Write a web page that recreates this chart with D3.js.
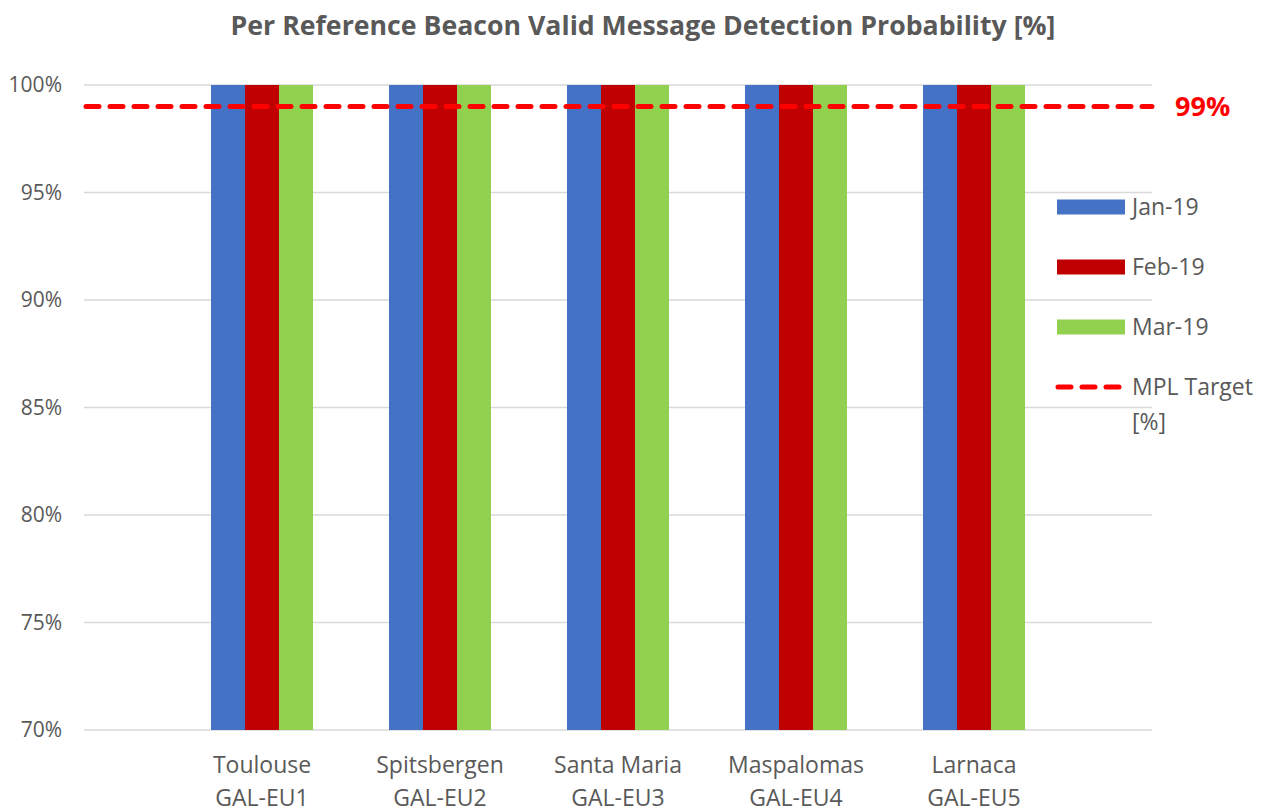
<!DOCTYPE html>
<html>
<head>
<meta charset="utf-8">
<script src="https://cdn.jsdelivr.net/npm/d3@7"></script>
<style>
  body { margin: 0; background: #fff; }
  text { font-family: "Open Sans", "Liberation Sans", sans-serif; fill: #595959; }
</style>
</head>
<body>
<div id="chart"></div>
<script>
var stations = ["Toulouse", "Spitsbergen", "Santa Maria", "Maspalomas", "Larnaca"];
var stationCodes = ["GAL-EU1", "GAL-EU2", "GAL-EU3", "GAL-EU4", "GAL-EU5"];
var months = ["Jan-19", "Feb-19", "Mar-19"];
var jan19 = [100, 100, 100, 100, 100];
var feb19 = [100, 100, 100, 100, 100];
var mar19 = [100, 100, 100, 100, 100];
var target = 99;
var yTicks = [70, 75, 80, 85, 90, 95, 100];

var width = 1268;
var height = 812;
var colors = ["#4472C4", "#C00000", "#92D050"];
var series = [jan19, feb19, mar19];

var svg = d3.select('#chart')
    .append('svg')
    .attr('width', width)
    .attr('height', height);

var x = d3.scalePoint().domain(stations).range([84, 1152]).padding(1);
var xSub = d3.scaleBand().domain(months).range([-51, 51]);
var y = d3.scaleLinear().domain([70, 100]).range([730, 85]);

// title
svg.append("text")
    .attr("x", 643)
    .attr("y", 35)
    .attr("text-anchor", "middle")
    .style("font-size", "26.7px")
    .style("font-weight", "bold")
    .text("Per Reference Beacon Valid Message Detection Probability [%]");

// grid + y labels
svg.selectAll(".grid")
    .data(yTicks)
    .enter()
    .append("line")
    .attr("x1", 84).attr("x2", 1152)
    .attr("y1", d => y(d)).attr("y2", d => y(d))
    .attr("stroke", "#d9d9d9")
    .attr("stroke-width", 1.5);

svg.selectAll(".ylab")
    .data(yTicks)
    .enter()
    .append("text")
    .attr("x", 62)
    .attr("y", d => y(d))
    .attr("dy", "0.35em")
    .attr("text-anchor", "end")
    .style("font-size", "21px")
    .text(d => d + "%");

// bars
series.forEach(function(vals, si) {
    svg.selectAll(".bar" + si)
        .data(vals)
        .enter()
        .append("rect")
        .attr("x", (d, i) => x(stations[i]) + xSub(months[si]))
        .attr("width", xSub.bandwidth())
        .attr("y", d => y(d))
        .attr("height", d => y(70) - y(d))
        .attr("fill", colors[si]);
});

// target line
svg.append("line")
    .attr("x1", 86).attr("x2", 1152)
    .attr("y1", y(target)).attr("y2", y(target))
    .attr("stroke", "#FF0000")
    .attr("stroke-width", 5)
    .attr("stroke-linecap", "round")
    .attr("stroke-dasharray", "13,11");

svg.append("text")
    .attr("x", 1175)
    .attr("y", y(target))
    .attr("dy", "0.36em")
    .style("font-size", "27px")
    .style("font-weight", "bold")
    .style("fill", "#FF0000")
    .text(target + "%");

// x labels
var xl = svg.selectAll(".xlab")
    .data(stations)
    .enter()
    .append("text")
    .attr("text-anchor", "middle")
    .style("font-size", "23px");
xl.append("tspan").attr("x", d => x(d)).attr("y", 773).text(d => d);
xl.append("tspan").attr("x", d => x(d)).attr("y", 806).text((d, i) => stationCodes[i]);

// legend
var leg = svg.append("g");
months.forEach(function(m, i) {
    var ly = 207 + i * 60;
    leg.append("rect")
        .attr("x", 1057).attr("y", ly - 7.5)
        .attr("width", 68).attr("height", 15)
        .attr("fill", colors[i]);
    leg.append("text")
        .attr("x", 1132).attr("y", ly)
        .attr("dy", "0.35em")
        .style("font-size", "23px")
        .text(m);
});
leg.append("line")
    .attr("x1", 1058).attr("x2", 1120)
    .attr("y1", 387).attr("y2", 387)
    .attr("stroke", "#FF0000")
    .attr("stroke-width", 5)
    .attr("stroke-linecap", "round")
    .attr("stroke-dasharray", "13,11");
var mt = leg.append("text").style("font-size", "23px");
mt.append("tspan").attr("x", 1132).attr("y", 395).text("MPL Target");
mt.append("tspan").attr("x", 1132).attr("y", 430).text("[%]");
</script>
</body>
</html>
